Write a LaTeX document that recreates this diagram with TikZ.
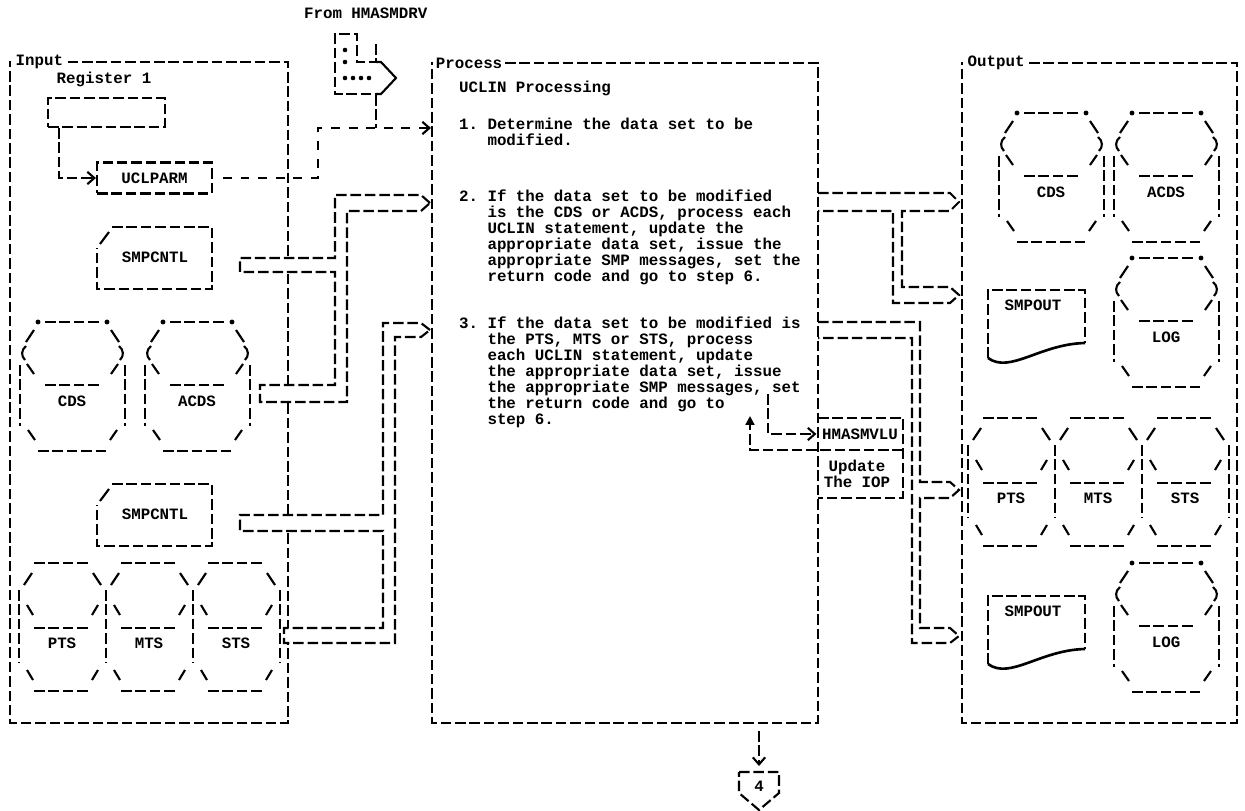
\documentclass[tikz,border=0pt]{standalone}
\usepackage{fontspec}
\setmonofont{Liberation Mono}
\usetikzlibrary{arrows.meta,positioning}
\newcommand{\stepind}{\hspace*{16.2pt}}
\tikzset{
  ln/.style={dash pattern=on 6pt off 2.2pt},
  dl/.style={dash pattern=on 5pt off 5pt},
  barb/.style={-{Straight Barb[length=4pt,width=7pt]}},
  % disk data set
  pics/disk/.style={code={
    \draw[ln] (25,0) -- (80,0);
    \fill (18,0) circle[radius=1.4pt] (87,0) circle[radius=1.4pt];
    \draw (14,8) -- (6,20);
    \draw (91,8) -- (99,20);
    \draw (6,24) .. controls (1,28) and (1,34) .. (5,38);
    \draw (99,24) .. controls (104,28) and (104,34) .. (100,38);
    \draw (7,42) -- (14,52);
    \draw (98,42) -- (91,52);
    \draw[ln] (0,43) -- (0,104);
    \draw[ln] (105,43) -- (105,104);
    \draw[ln] (25,63) -- (80,63);
    \draw (8,108) -- (15,118);
    \draw (97,108) -- (90,118);
    \draw[ln] (18,129) -- (88,129);
    \node (-lbl) at (52,79) {#1};
  }},
  % tape data set
  pics/tape/.style={code={
    \draw[ln] (15,0) -- (72,0);
    \draw (13,10) -- (5,22);
    \draw (74,10) -- (82,22);
    \draw[ln] (0,27) -- (0,100);
    \draw[ln] (87,27) -- (87,100);
    \draw (8,42) -- (14,52);
    \draw (79,42) -- (73,52);
    \draw[ln] (15,65) -- (72,65);
    \draw (8,107) -- (14,117);
    \draw (79,107) -- (73,117);
    \draw[ln] (15,128) -- (72,128);
    \node (-lbl) at (43,80) {#1};
  }},
  % punched card
  pics/card/.style={code={
    \draw[ln] (15,0) -- (115,0) -- (115,62) -- (0,62) -- (0,21);
    \draw (12,5) -- (3,17);
    \node (-lbl) at (58,30) {#1};
  }},
  % printed document
  pics/doc/.style={code={
    \draw[ln] (0,68) -- (0,0) -- (97,0) -- (97,53);
    \draw[line width=1.5pt] (0,68) .. controls (22,84) and (52,54) .. (97,53);
    \node (-lbl) at (45,15) {#1};
  }},
}

\begin{document}
\begin{tikzpicture}[x=0.02cm, y=-0.02cm, line width=1.2pt,
    every node/.style={font=\ttfamily\bfseries\fontsize{9}{9.1}\selectfont, inner sep=0pt}]
  \useasboundingbox (0,0) rectangle (1245,811);

  % from connector
  \node[anchor=west] (from) at (303,13) {From HMASMDRV};
  \draw[ln] (376,44) -- (376,62) -- (357,62) -- (357,34) -- (335,34) -- (335,94) -- (376,94);
  \draw (376,62) -- (381,62) -- (396,78) -- (381,94) -- (376,94);
  \fill (345,50) circle[radius=1.3pt] (345,62) circle[radius=1.3pt]
        (345,78) circle[radius=1.3pt] (353,78) circle[radius=1.3pt]
        (361,78) circle[radius=1.3pt] (369,78) circle[radius=1.3pt];

  % Input
  \node[anchor=west, inner xsep=2pt] (inlbl) at (11,62) {Input};
  \draw[ln] (inlbl.east) -- (288,62) -- (288,723) -- (10,723) -- (10,62) -- (inlbl.west);
  \node (reglbl) at (104,79) {Register 1};
  \node[draw, ln, minimum width=2.34cm, minimum height=0.58cm] (reg) at (106.5,112.5) {};
  \node[draw, ln, minimum width=2.3cm, minimum height=0.62cm] (uclparm) at (154.5,178) {UCLPARM};
  \pic (icntl) at (97,227) {card=SMPCNTL};
  \pic (icds) at (20,322) {disk=CDS};
  \pic (iacds) at (145,322) {disk=ACDS};
  \pic (icntlb) at (97,484) {card=SMPCNTL};
  \pic (ipts) at (19,563) {tape=PTS};
  \pic (imts) at (106,563) {tape=MTS};
  \pic (ists) at (193,563) {tape=STS};

  % Process
  \node[anchor=west, inner xsep=1pt] (prlbl) at (433,63) {Process};
  \draw[ln] (prlbl.east) -- (818,63) -- (818,723) -- (432,723) -- (432,63) -- (prlbl.west);
  \node[anchor=west] (ptitle) at (458,88) {UCLIN Processing};
  \node[anchor=north west, align=left] (s1) at (458,117)
    {1. Determine the data set to be\\\stepind modified.};
  \node[anchor=north west, align=left] (s2) at (458,189)
    {2. If the data set to be modified\\\stepind is the CDS or ACDS, process each\\\stepind UCLIN statement, update the\\\stepind appropriate data set, issue the\\\stepind appropriate SMP messages, set the\\\stepind return code and go to step 6.};
  \node[anchor=north west, align=left] (s3) at (458,316)
    {3. If the data set to be modified is\\\stepind the PTS, MTS or STS, process\\\stepind each UCLIN statement, update\\\stepind the appropriate data set, issue\\\stepind the appropriate SMP messages, set\\\stepind the return code and go to\\\stepind step 6.};

  % HMASMVLU
  \node[minimum width=1.7cm, minimum height=0.3cm] (vlu) at (860,434) {HMASMVLU};
  \node[align=center] (upd) at (857,474) {Update\\The IOP};
  \draw[ln] (818,418) -- (903,418) -- (903,498) -- (818,498);
  \coordinate (callst) at (768,394);
  \draw[ln, barb] (callst) |- (vlu.west);
  \draw[ln, -{Triangle[length=5pt,width=5pt]}] (903,450) -- (750,450) -- (750,416);

  % Output
  \node[anchor=west, inner xsep=2pt] (outlbl) at (963,63) {Output};
  \draw[ln] (outlbl.east) -- (1237,63) -- (1237,723) -- (962,723) -- (962,63) -- (outlbl.west);
  \pic (ocds) at (999,113) {disk=CDS};
  \pic (oacds) at (1114,113) {disk=ACDS};
  \pic (oout) at (988,290) {doc=SMPOUT};
  \pic (olog) at (1114,258) {disk=LOG};
  \pic (opts) at (968,418) {tape=PTS};
  \pic (omts) at (1055,418) {tape=MTS};
  \pic (osts) at (1142,418) {tape=STS};
  \pic (ooutb) at (988,596) {doc=SMPOUT};
  \pic (ologb) at (1114,563) {disk=LOG};

  % input arrows
  \coordinate (p1in) at (431,128);
  \draw[dl, barb] ([xshift=0.2cm]uclparm.east) -| (318,128) -- (p1in);
  \draw[ln] (376,95) -- (376,128);
  \draw[ln, barb] ([xshift=0.24cm]reg.south west) |- (uclparm.west);
  \draw[ln, fill=white] (430,203) -- (421,195) -- (335,195) -- (335,258) -- (240,258)
    -- (240,272) -- (335,272) -- (335,385) -- (260,385) -- (260,402) -- (347,402)
    -- (347,211) -- (421,211) -- cycle;
  \draw[ln, fill=white] (430,330) -- (421,323) -- (383,323) -- (383,515) -- (240,515)
    -- (240,531) -- (383,531) -- (383,628) -- (284,628) -- (284,643) -- (395,643)
    -- (395,337) -- (421,337) -- cycle;

  % output arrows
  \draw[ln] (818,193) -- (950,193) -- (959,202) -- (950,211) -- (902,211) -- (902,287)
    -- (950,287) -- (959,295) -- (950,303) -- (893,303) -- (893,211) -- (818,211);
  \draw[ln] (818,322) -- (920,322) -- (920,482) -- (950,482) -- (959,490) -- (950,498)
    -- (920,498) -- (920,628) -- (950,628) -- (959,636) -- (950,643) -- (912,643)
    -- (912,338) -- (818,338);

  % connector to 4
  \coordinate (pbot) at (759,731);
  \coordinate (c4top) at (759,766);
  \draw[ln, barb] (pbot) -- (c4top);
  \draw[ln] (739,772) -- (779,772) -- (779,793) -- (759,810) -- (739,793) -- cycle;
  \node (c4) at (759,786) {4};
\end{tikzpicture}
\end{document}
